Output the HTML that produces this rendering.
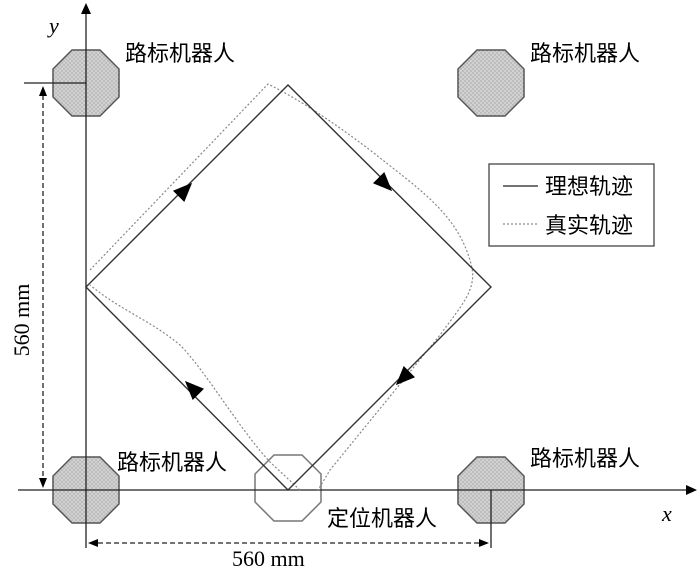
<!DOCTYPE html>
<html><head><meta charset="utf-8"><style>
body{margin:0;background:#fff}
text{font-family:"Liberation Serif","Noto Sans CJK SC",serif}
.cn{font-family:"Liberation Sans","Noto Sans CJK SC",sans-serif;font-size:22px;fill:#000}
</style></head><body>
<svg width="700" height="569" viewBox="0 0 700 569" xmlns="http://www.w3.org/2000/svg">
<defs>
<pattern id="h" width="4" height="4" patternUnits="userSpaceOnUse">
<rect width="4" height="4" fill="#d4d4d4"/><path d="M0 0L4 4M4 0L0 4" stroke="#b0b0b0" stroke-width="0.6"/>
</pattern>
<polygon id="oct" points="-14,-33 14,-33 33,-14 33,14 14,33 -14,33 -33,14 -33,-14"/>
<polygon id="arr" points="10,0 -9,-8 -9,8"/>
</defs>
<g stroke="#555" stroke-width="1.5">
<use href="#oct" x="86" y="83" fill="url(#h)"/>
<use href="#oct" x="491" y="83" fill="url(#h)"/>
<use href="#oct" x="86" y="490" fill="url(#h)"/>
<use href="#oct" x="491" y="490" fill="url(#h)"/>
<use href="#oct" x="288" y="488" fill="none" stroke="#777"/>
</g>
<g stroke="#222" stroke-width="1.3" fill="none">
<line x1="86" y1="12" x2="86" y2="548"/>
<line x1="18" y1="490" x2="688" y2="490"/>
<line x1="24" y1="83" x2="86" y2="83"/>
<line x1="491" y1="490" x2="491" y2="548"/>
</g>
<polygon points="86,3 81,14 91,14" fill="#000"/>
<polygon points="697,490 686,485 686,495" fill="#000"/>
<g stroke="#222" stroke-width="1.3" stroke-dasharray="5,3">
<line x1="43" y1="95" x2="43" y2="478"/>
<line x1="98" y1="543" x2="479" y2="543"/>
</g>
<polygon points="43,86 39,96 47,96" fill="#000"/>
<polygon points="43,488 39,478 47,478" fill="#000"/>
<polygon points="88,543 98,539 98,547" fill="#000"/>
<polygon points="489,543 479,539 479,547" fill="#000"/>
<path d="M90,270 L268,84 C300,100 330,120 370,150 C420,190 460,215 472,268 C476,290 462,305 440,335 L330,470 L318,490 M300,490 L270,462 C240,430 205,370 180,345 C150,320 120,310 90,285" fill="none" stroke="#888" stroke-width="1.2" stroke-dasharray="2,2"/>
<polygon points="86,287 288,85 491,287 288,490" fill="none" stroke="#333" stroke-width="1.4"/>
<g fill="#000">
<use href="#arr" transform="translate(185,190) rotate(-45)"/>
<use href="#arr" transform="translate(385,184) rotate(45)"/>
<use href="#arr" transform="translate(403,378) rotate(135)"/>
<use href="#arr" transform="translate(192,388) rotate(225)"/>
</g>
<rect x="489" y="164" width="165" height="82" fill="#fff" stroke="#444" stroke-width="1.3"/>
<line x1="503" y1="186" x2="538" y2="186" stroke="#222" stroke-width="1.3"/>
<line x1="503" y1="224" x2="538" y2="224" stroke="#888" stroke-width="1.2" stroke-dasharray="2,2"/>
<text class="cn" x="545" y="194">理想轨迹</text>
<text class="cn" x="545" y="233">真实轨迹</text>
<text class="cn" x="125" y="61">路标机器人</text>
<text class="cn" x="530" y="61">路标机器人</text>
<text class="cn" x="117" y="470">路标机器人</text>
<text class="cn" x="530" y="466">路标机器人</text>
<text class="cn" x="327" y="526">定位机器人</text>
<text x="49" y="33" font-size="22" font-style="italic">y</text>
<text x="662" y="521" font-size="22" font-style="italic">x</text>
<text x="232" y="566" font-size="22">560 mm</text>
<text transform="translate(29,320) rotate(-90)" x="0" y="0" font-size="22" text-anchor="middle">560 mm</text>
</svg>
</body></html>
